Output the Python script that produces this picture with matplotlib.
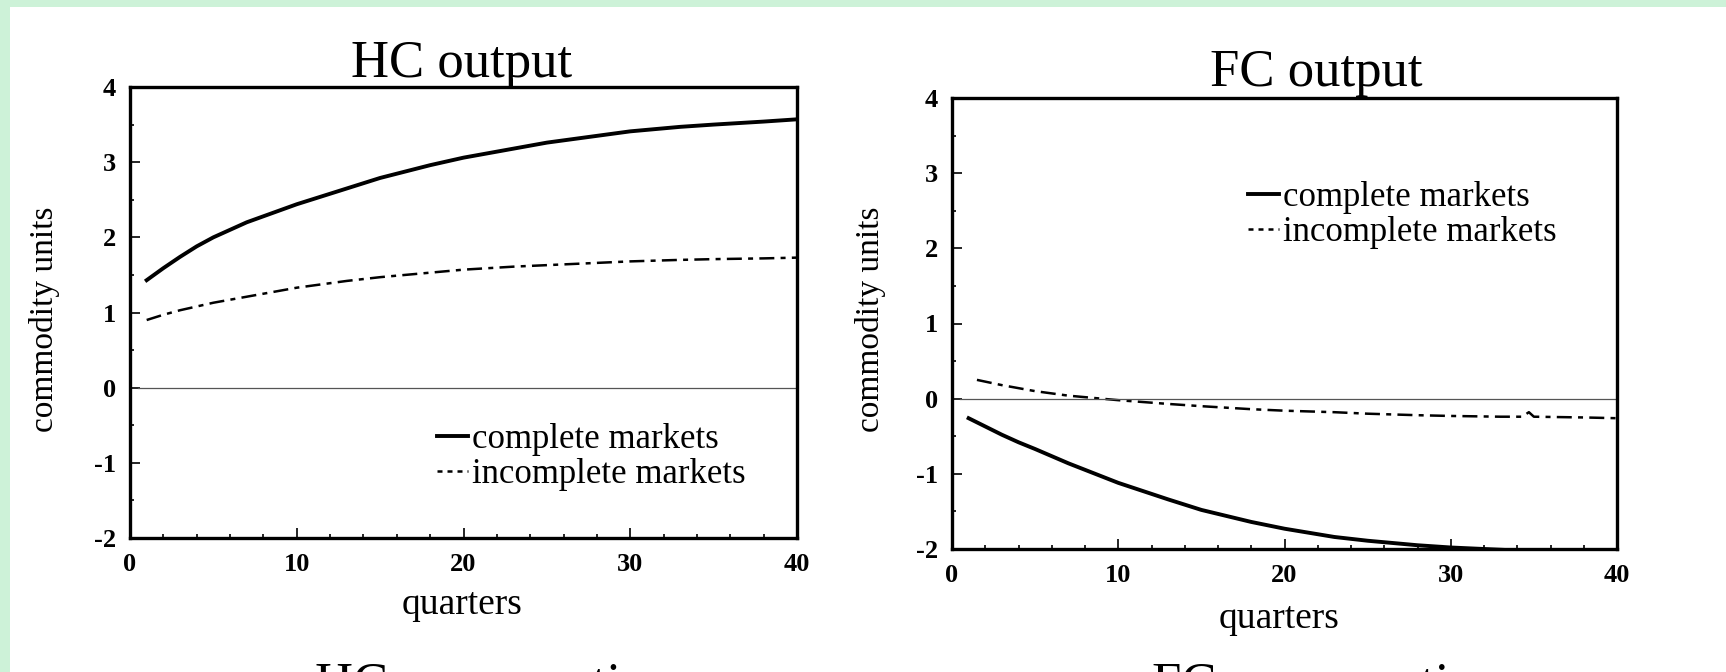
import matplotlib.pyplot as plt
from matplotlib.patches import Rectangle
from matplotlib.ticker import MultipleLocator
from matplotlib.legend_handler import HandlerLine2D

plt.rcParams['font.family'] = ['Liberation Serif', 'DejaVu Serif']
plt.rcParams['axes.unicode_minus'] = False

# quarters after the shock
quarters = [1, 2, 3, 4, 5, 7, 10, 13, 15, 18, 20, 23, 25, 28, 30, 33, 35, 38, 40]

# HC output (commodity units)
hc_complete = [1.43, 1.59, 1.74, 1.88, 2.00, 2.20, 2.44, 2.65, 2.79, 2.96, 3.06, 3.18, 3.26, 3.35, 3.41, 3.47, 3.50, 3.54, 3.57]
hc_incomplete = [0.90, 0.97, 1.03, 1.08, 1.13, 1.21, 1.33, 1.42, 1.47, 1.53, 1.57, 1.61, 1.63, 1.66, 1.68, 1.70, 1.71, 1.72, 1.73]

# FC output (commodity units)
fc_complete = [-0.26, -0.37, -0.48, -0.58, -0.67, -0.86, -1.12, -1.34, -1.48, -1.64, -1.73, -1.84, -1.89, -1.95, -1.98, -2.01, -2.03, -2.05, -2.06]
fc_x_inc = [1.5, 3, 5, 7, 10, 13, 15, 18, 20, 23, 25, 28, 30, 33, 34.3, 34.7, 35, 38, 40]
fc_incomplete = [0.25, 0.18, 0.10, 0.04, -0.02, -0.07, -0.10, -0.14, -0.16, -0.18, -0.20, -0.22, -0.23, -0.24, -0.24, -0.18, -0.24, -0.25, -0.26]

zero_x = [0.5, 40]
zero_y = [0, 0]

fig = plt.figure(figsize=(17.26, 6.72), dpi=100, facecolor='#cdf2d8')
fig.patches.append(Rectangle((10 / 1726, 0), 1, 1 - 7 / 672, transform=fig.transFigure,
                             facecolor='white', edgecolor='none', zorder=-10))

ax1 = fig.add_axes([130 / 1726, 1 - 538 / 672, 667 / 1726, 451 / 672])
ax2 = fig.add_axes([952 / 1726, 1 - 549 / 672, 665 / 1726, 451 / 672])

dash = (0, (6, 2.5, 2, 2.5))

ax1.plot(quarters, hc_complete, color='black', lw=2.8, label='complete markets')
ax1.plot(quarters, hc_incomplete, color='black', lw=1.8, linestyle=dash, label='incomplete markets')
ax1.plot(zero_x, zero_y, color='#555555', lw=0.9)

ax2.plot(quarters, fc_complete, color='black', lw=2.8, label='complete markets')
ax2.plot(fc_x_inc, fc_incomplete, color='black', lw=1.8, linestyle=dash, label='incomplete markets')
ax2.plot(zero_x, zero_y, color='#555555', lw=0.9)


def short_dashes(handle, orig):
    handle.update_from(orig)
    if orig.get_linestyle() != '-':
        handle.set_dashes([2, 2])


for ax in (ax1, ax2):
    ax.set_xlim(0, 40)
    ax.set_ylim(-2, 4)
    ax.set_xticks([0, 10, 20, 30, 40])
    ax.set_yticks([-2, -1, 0, 1, 2, 3, 4])
    ax.xaxis.set_minor_locator(MultipleLocator(2))
    ax.yaxis.set_minor_locator(MultipleLocator(0.5))
    ax.tick_params(which='both', direction='in', width=1.2)
    ax.tick_params(which='major', length=7)
    ax.tick_params(which='minor', length=3)
    ax.tick_params(axis='x', pad=11)
    ax.tick_params(axis='y', pad=10)
    for lab in ax.get_xticklabels() + ax.get_yticklabels():
        lab.set_fontsize(19)
        lab.set_fontweight('bold')
    for s in ax.spines.values():
        s.set_linewidth(2.4)

hm = {plt.Line2D: HandlerLine2D(update_func=short_dashes)}
ax1.legend(loc='upper left', bbox_to_anchor=(0.46, 0.255), frameon=False, fontsize=25,
           handlelength=0.9, handletextpad=0.1, labelspacing=0.05, borderpad=0, borderaxespad=0,
           handler_map=hm)
ax2.legend(loc='upper left', bbox_to_anchor=(0.445, 0.815), frameon=False, fontsize=25,
           handlelength=0.9, handletextpad=0.1, labelspacing=0.05, borderpad=0, borderaxespad=0,
           handler_map=hm)

# titles, axis labels
fig.text(462 / 1726, 1 - 77 / 672, 'HC output', fontsize=38, ha='center', va='baseline')
fig.text(1316 / 1726, 1 - 86 / 672, 'FC output', fontsize=38, ha='center', va='baseline')
fig.text(44 / 1726, 1 - 319 / 672, 'commodity units', fontsize=24, rotation=90, ha='center', va='center')
fig.text(870 / 1726, 1 - 319 / 672, 'commodity units', fontsize=24, rotation=90, ha='center', va='center')
fig.text(462 / 1726, 1 - 605 / 672, 'quarters', fontsize=27, ha='center', va='center')
fig.text(1279 / 1726, 1 - 619 / 672, 'quarters', fontsize=27, ha='center', va='center')

# next row of panels, cut off by the page edge
fig.text(315 / 1726, 1 - 662 / 672, 'HC consumption', fontsize=38, ha='left', va='top')
fig.text(1152 / 1726, 1 - 662 / 672, 'FC consumption', fontsize=38, ha='left', va='top')

fig.savefig('out.png', dpi=100, facecolor=fig.get_facecolor())
